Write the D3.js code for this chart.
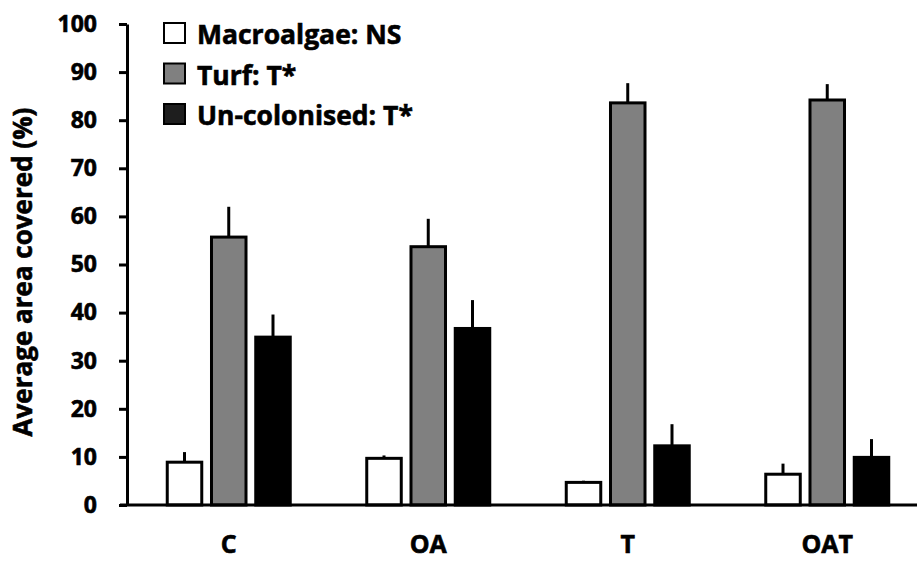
<!DOCTYPE html>
<html>
<head>
<meta charset="utf-8">
<script src="https://cdn.jsdelivr.net/npm/d3@7"></script>
<style>
  html, body { margin: 0; padding: 0; background: #fff; }
  svg { display: block; font-family: "Open Sans", sans-serif; font-weight: 700; }
  svg text { stroke: #000; stroke-width: 0.6px; paint-order: stroke; }
</style>
</head>
<body>
<svg id="chart" width="917" height="561"></svg>
<script>
// ---- data ----
const categories = ["C", "OA", "T", "OAT"];
const seriesNames = ["Macroalgae: NS", "Turf: T*", "Un-colonised: T*"];
const macroalgae = [8.9, 9.7, 4.7, 6.4];
const macroalgaeSE = [2.1, 0.6, 0.35, 2.2];
const turf = [55.7, 53.7, 83.6, 84.2];
const turfSE = [6.3, 5.8, 4.1, 3.3];
const uncolonised = [34.9, 36.7, 12.3, 9.9];
const uncolonisedSE = [4.7, 5.9, 4.5, 3.8];
const yTicks = [0, 10, 20, 30, 40, 50, 60, 70, 80, 90, 100];
const yTitle = "Average area covered (%)";

const seriesValues = [macroalgae, turf, uncolonised];
const seriesSE = [macroalgaeSE, turfSE, uncolonisedSE];
const fills = ["#ffffff", "#808080", "#000000"];
const legendFills = ["#ffffff", "#808080", "#1e1e1e"];

const svg = d3.select("#chart");

const y = d3.scaleLinear().domain([0, 100]).range([505, 24]);
const x0 = d3.scaleBand().domain(categories).range([129, 927]).padding(0);
const x1 = d3.scaleBand().domain(seriesNames).range([-61.5, 61.5]).paddingInner(0.22).paddingOuter(0);

const rows = [];
categories.forEach((c, i) => {
  seriesNames.forEach((s, j) => {
    rows.push({ cat: c, ser: s, j: j, v: seriesValues[j][i], se: seriesSE[j][i] });
  });
});

const g = svg.append("g");
const cx = d => x0(d.cat) + x0.bandwidth() / 2 + x1(d.ser) + x1.bandwidth() / 2;

// error bars (upper only)
g.selectAll("line.err").data(rows).enter().append("line")
  .attr("class", "err")
  .attr("x1", cx).attr("x2", cx)
  .attr("y1", d => y(d.v))
  .attr("y2", d => y(d.v + d.se))
  .attr("stroke", "#000")
  .attr("stroke-width", 3);

g.selectAll("rect.bar").data(rows).enter().append("rect")
  .attr("class", "bar")
  .attr("x", d => x0(d.cat) + x0.bandwidth() / 2 + x1(d.ser))
  .attr("width", x1.bandwidth())
  .attr("y", d => y(d.v))
  .attr("height", d => y(0) - y(d.v))
  .attr("fill", d => fills[d.j])
  .attr("stroke", "#000")
  .attr("stroke-width", 3);

// y axis
const yAxis = d3.axisLeft(y).tickValues(yTicks).tickSize(8).tickSizeOuter(0).tickPadding(22);
const yg = svg.append("g").attr("transform", "translate(127,0)").call(yAxis);
yg.select(".domain").attr("stroke", "#000").attr("stroke-width", 3);
yg.selectAll(".tick line").attr("stroke", "#000").attr("stroke-width", 3);
yg.selectAll(".tick text").attr("font-size", 23).attr("font-weight", 700)
  .attr("font-family", "'Open Sans', sans-serif").attr("fill", "#000");

// x axis
const xAxis = d3.axisBottom(x0).tickSize(0).tickPadding(30);
const xg = svg.append("g").attr("transform", "translate(0,505)").call(xAxis);
xg.select(".domain").remove();
xg.selectAll(".tick text").attr("font-size", 25).attr("font-weight", 700)
  .attr("font-family", "'Open Sans', sans-serif").attr("fill", "#000");
xg.append("line").attr("x1", 120).attr("x2", 917).attr("y1", 0).attr("y2", 0)
  .attr("stroke", "#000").attr("stroke-width", 3);

// y title
svg.append("text")
  .attr("transform", "translate(32,272) rotate(-90)")
  .attr("text-anchor", "middle")
  .attr("font-size", 26)
  .attr("fill", "#000")
  .text(yTitle);

// legend
const leg = svg.append("g");
seriesNames.forEach((s, j) => {
  const top = 23 + j * 40.5;
  leg.append("rect").attr("x", 164).attr("y", top).attr("width", 21).attr("height", 20)
    .attr("fill", legendFills[j]).attr("stroke", "#000").attr("stroke-width", 2);
  leg.append("text").attr("x", 197).attr("y", top + 21).attr("font-size", 26.5)
    .attr("fill", "#000").text(s);
});
</script>
</body>
</html>
